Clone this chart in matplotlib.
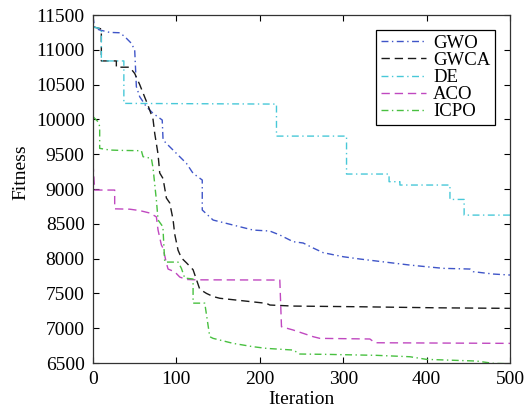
import matplotlib
matplotlib.use("Agg")
import matplotlib.pyplot as plt

plt.rcParams['font.family'] = ['Liberation Serif', 'DejaVu Serif']

gwo_x = [0, 2, 8, 20, 32, 38, 46, 50, 52, 56, 64, 72, 83, 84, 92, 104, 112, 120, 131, 131, 144, 160, 176, 192, 212, 224, 240, 252, 264, 276, 300, 320, 340, 360, 380, 400, 420, 452, 456, 480, 500]
gwo_y = [11480, 11310, 11285, 11250, 11245, 11190, 11093, 10997, 10470, 10326, 10182, 10087, 9991, 9704, 9607, 9464, 9369, 9225, 9129, 8698, 8554, 8506, 8458, 8410, 8396, 8339, 8243, 8224, 8152, 8085, 8027, 7994, 7965, 7936, 7907, 7883, 7860, 7850, 7812, 7778, 7764]

gwca_x = [0, 10, 10, 28, 28, 44, 50, 56, 60, 66, 72, 74, 78, 80, 84, 88, 92, 96, 98, 102, 106, 112, 120, 124, 128, 136, 144, 152, 208, 212, 240, 320, 412, 500]
gwca_y = [11330, 11300, 10840, 10840, 10750, 10750, 10660, 10500, 10380, 10200, 10000, 9800, 9500, 9230, 9150, 8870, 8800, 8560, 8350, 8120, 8010, 7940, 7840, 7700, 7560, 7500, 7455, 7430, 7357, 7333, 7318, 7308, 7293, 7285]

de_x = [0, 10, 10, 37, 37, 220, 220, 304, 304, 355, 355, 368, 368, 428, 428, 445, 445, 500]
de_y = [11330, 11300, 10840, 10840, 10230, 10220, 9760, 9760, 9215, 9215, 9105, 9105, 9057, 9057, 8850, 8850, 8625, 8625]

aco_x = [0, 2, 26, 26, 44, 56, 68, 76, 78, 82, 84, 88, 90, 98, 104, 112, 124, 224, 226, 240, 264, 272, 332, 338, 500]
aco_y = [9370, 8985, 8985, 8715, 8710, 8690, 8655, 8600, 8410, 8195, 8150, 7936, 7850, 7810, 7735, 7700, 7695, 7692, 7021, 6974, 6878, 6854, 6845, 6791, 6782]

icpo_x = [0, 6, 8, 8, 20, 32, 58, 60, 70, 72, 76, 77, 78, 84, 84, 86, 102, 106, 110, 118, 120, 120, 134, 140, 144, 168, 192, 208, 240, 248, 280, 340, 380, 400, 460, 480, 500]
icpo_y = [10040, 9967, 9900, 9584, 9560, 9555, 9550, 9464, 9440, 9300, 8840, 8700, 8555, 8454, 8410, 7950, 7950, 7860, 7720, 7710, 7706, 7360, 7360, 6878, 6854, 6782, 6734, 6710, 6686, 6629, 6624, 6610, 6590, 6552, 6528, 6495, 6490]

labels = ['GWO', 'GWCA', 'DE', 'ACO', 'ICPO']
colors = ['#3f55c8', '#1a1a1a', '#48c8d8', '#c048c0', '#48c040']
dashes = [(5, 2.5, 1, 2.5), (6, 3.5), (5, 2.5, 1, 2.5), (6, 3.5), (5, 2.5, 1, 2.5)]
xticks = [0, 100, 200, 300, 400, 500]
yticks = [6500, 7000, 7500, 8000, 8500, 9000, 9500, 10000, 10500, 11000, 11500]

fig = plt.figure(figsize=(5.3, 4.11), dpi=100)
ax = fig.add_axes([93/530, 1-363/411, 417/530, 348/411])

series = [(gwo_x, gwo_y), (gwca_x, gwca_y), (de_x, de_y), (aco_x, aco_y), (icpo_x, icpo_y)]
for (xs, ys), lab, c, d in zip(series, labels, colors, dashes):
    ax.plot(xs, ys, color=c, lw=1.0, dashes=d, label=lab)

ax.set_xlim(0, 500)
ax.set_ylim(6500, 11500)
ax.set_xticks(xticks)
ax.set_yticks(yticks)
ax.tick_params(direction='in', top=True, right=True, length=4, labelsize=14, pad=6)
for s in ax.spines.values():
    s.set_linewidth(0.9)
    s.set_color('#333333')
ax.set_xlabel('Iteration', fontsize=14, labelpad=2)
ax.set_ylabel('Fitness', fontsize=14)
ax.yaxis.set_label_coords(-0.152, 0.549)

leg = ax.legend(loc='upper right', fontsize=13.5, frameon=True, fancybox=False,
                edgecolor='black', framealpha=1, handlelength=2.4, labelspacing=0.0,
                handletextpad=0.4, borderpad=0.25, borderaxespad=0.8)
leg.get_frame().set_linewidth(0.9)

fig.savefig('out.png', dpi=100)
